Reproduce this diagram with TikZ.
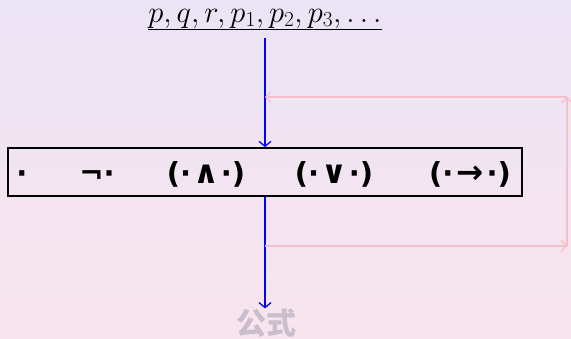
\RequirePackage{fix-cm}
\documentclass[tikz,border=0pt]{standalone}
\usepackage{fontspec}
\newfontfamily\symfont{DejaVu Sans}
\newfontfamily\cjkfont{Noto Sans CJK SC}
\usetikzlibrary{arrows.meta}
\definecolor{bgtop}{RGB}{235,228,245}
\definecolor{bgbot}{RGB}{248,228,236}
\definecolor{pinkline}{RGB}{245,190,200}
\definecolor{cjkgray}{RGB}{200,190,205}
\newcommand{\opglyph}[1]{\kern2pt\scalebox{1.1}{#1}\kern2pt}
\newcommand{\arrglyph}[1]{\kern3pt\scalebox{1.12}{#1}\kern3pt}
\tikzset{
  bluearrow/.style={draw=blue, line width=1.3pt, -{Straight Barb[length=5pt,width=12pt,line width=1.3pt]}},
  pinkarrow/.style={draw=pinkline, line width=1.2pt, -{Straight Barb[length=5pt,width=11pt,line width=1.2pt]}},
  framebox/.style={draw=black, line width=1.6pt, minimum width=514pt, minimum height=48pt, inner sep=0pt},
  item/.style={font=\symfont\bfseries\fontsize{29}{34}\selectfont, anchor=base, inner sep=0pt},
  toptext/.style={font=\fontsize{30.5}{36}\selectfont, anchor=base, inner sep=0pt},
  result/.style={font=\cjkfont\bfseries\fontsize{30}{34}\selectfont, text=cjkgray, inner sep=0pt}
}
\begin{document}
\begin{tikzpicture}[x=1pt,y=-1pt]
\useasboundingbox (0,0) rectangle (571,338);
\shade[top color=bgtop, bottom color=bgbot] (0,0) rectangle (571,338);
\node[toptext] (src) at (265,22) {\underline{$p,q,r,p_1,p_2,p_3,\ldots$}};
\node[framebox] (box) at (265,172) {};
\node[item] (i1) at (22,183) {·};
\node[item] (i2) at (97,183) {¬·};
\node[item] (i3) at (206,183) {(·\opglyph{∧}·)};
\node[item] (i4) at (334,183) {(·\opglyph{∨}·)};
\node[item] (i5) at (470,183) {(·\arrglyph{→}·)};
\node[result] (res) at (266,323) {公式};
\coordinate (a) at (265,246);
\coordinate (b) at (567,246);
\coordinate (c) at (567,97);
\coordinate (d) at (265,97);
\draw[bluearrow, shorten <=8pt] (src.south) -- (box.north);
\draw[bluearrow] (box.south) -- (box.south |- res.north);
\draw[pinkarrow] (a) -- (b);
\draw[pinkarrow] (b) -- (c);
\draw[pinkarrow] (c) -- (d);
\end{tikzpicture}
\end{document}
